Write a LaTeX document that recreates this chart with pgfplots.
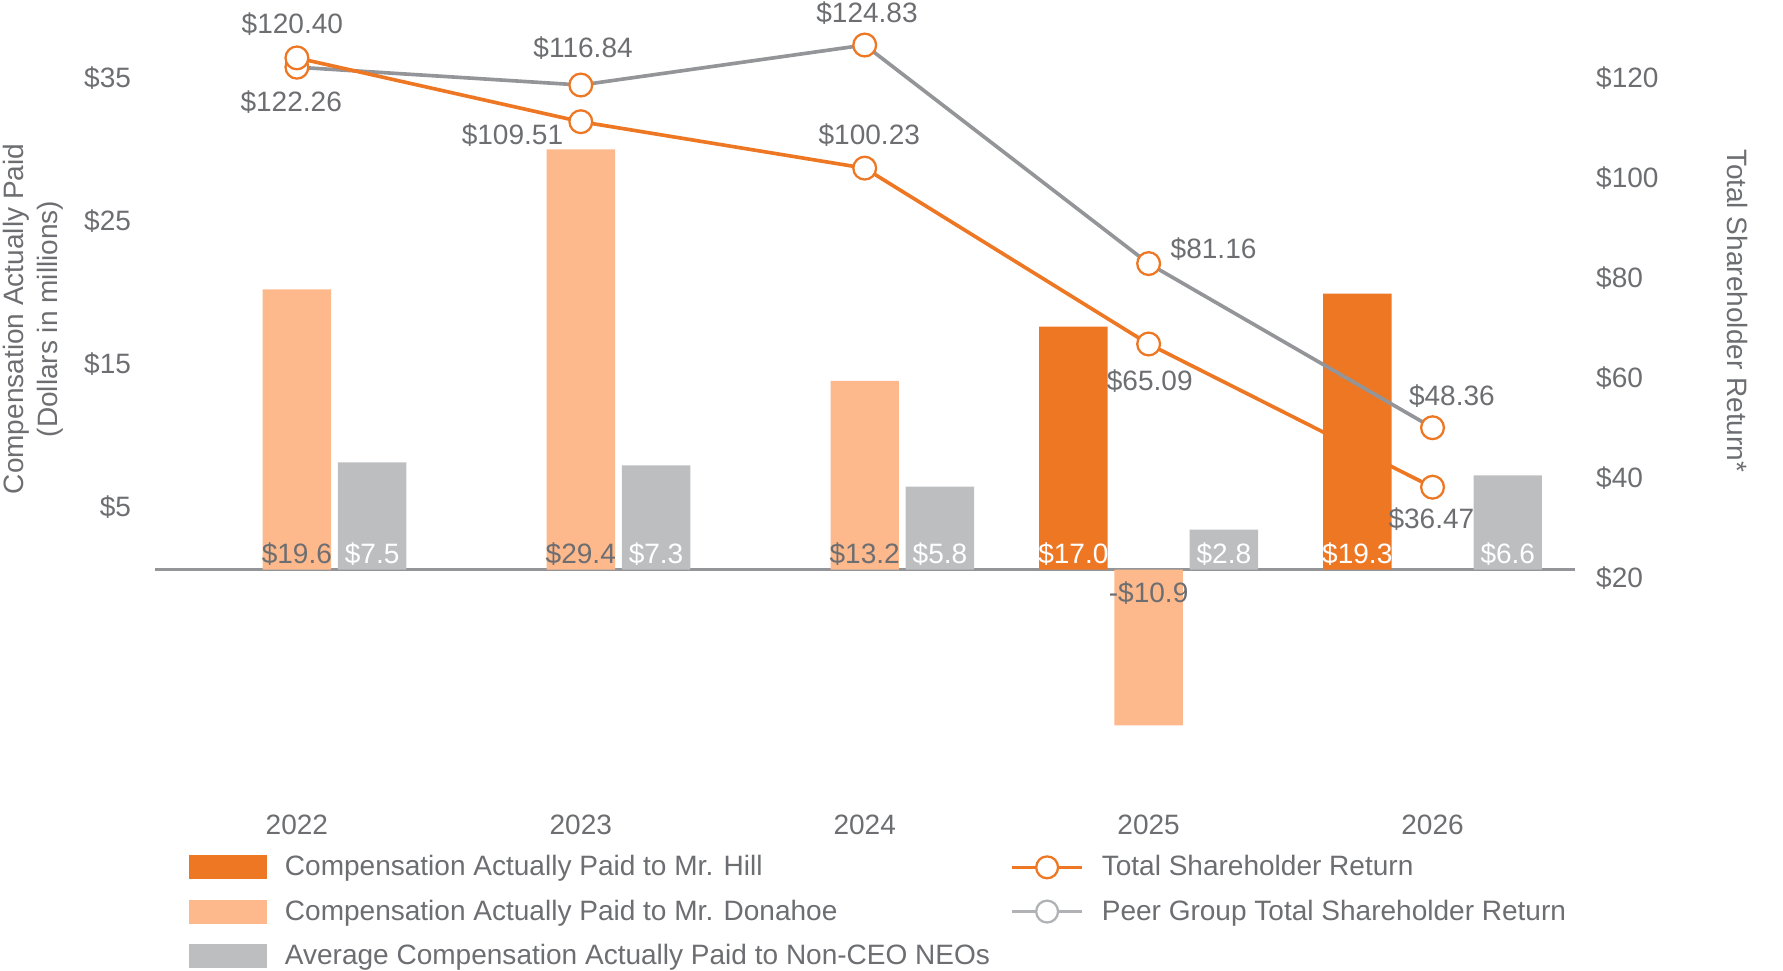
\documentclass[border=0pt]{standalone}
\usepackage{fontspec}
\setmainfont{Liberation Sans}
\usepackage{pgfplots}
\pgfplotsset{compat=1.18}
\definecolor{hill}{RGB}{238,119,35}
\definecolor{dona}{RGB}{253,185,140}
\definecolor{neo}{RGB}{188,190,192}
\definecolor{peer}{RGB}{147,149,152}
\definecolor{peerlite}{RGB}{176,178,181}
\definecolor{txt}{RGB}{109,110,113}

\pgfplotsset{
  base/.style={
    scale only axis, width=623pt, height=338.85pt,
    xmin=-0.5, xmax=4.5, clip=false,
    axis line style={draw=none}, tick style={draw=none}, major tick length=0pt,
    tick label style={text=txt, font=\fontsize{12.3}{14}\selectfont},
  },
  lbl/.style={draw=none, mark=none, forget plot, nodes near coords, point meta=explicit symbolic,
    nodes near coords style={font=\fontsize{12.3}{14}\selectfont, inner sep=0pt}},
}

\begin{document}
\begin{tikzpicture}[font=\fontsize{12.3}{14}\selectfont]
\useasboundingbox (-68pt,-75.35pt) rectangle (714.5pt,350.4pt);
% ---------------- left axis: compensation bars ----------------
\begin{axis}[base,
  axis x line*=bottom, axis y line*=left,
  ymin=-16, ymax=38,
  xtick={0,1,2,3,4}, xticklabels={2022,2023,2024,2025,2026},
  xticklabel style={anchor=base, yshift=-15.7pt},
  ytick={5,15,25,35}, yticklabels={\$5,\$15,\$25,\$35},
  yticklabel style={anchor=base east, xshift=-7pt, yshift=-8pt},
  extra y ticks={0}, extra y tick labels={},
  extra y tick style={grid=major, major grid style={draw=peer, line width=1.6pt}},
]
\addplot[ybar, bar width=0.241, bar shift=-0.265, fill=hill, draw=none, forget plot]
  coordinates {(3,17.0) (4,19.3)};
\addplot[ybar, bar width=0.241, bar shift=0, fill=dona, draw=none, forget plot]
  coordinates {(0,19.6) (1,29.4) (2,13.2) (3,-10.9)};
\addplot[ybar, bar width=0.241, bar shift=0.265, fill=neo, draw=none, forget plot]
  coordinates {(0,7.5) (1,7.3) (2,5.8) (3,2.8) (4,6.6)};
% bar value labels
\addplot[lbl, nodes near coords style={anchor=base, yshift=2.5pt, text=white}]
  coordinates {(2.735,0) [\$17.0] (3.735,0) [\$19.3]};
\addplot[lbl, nodes near coords style={anchor=base, yshift=2.5pt, text=txt}]
  coordinates {(0,0) [\$19.6] (1,0) [\$29.4] (2,0) [\$13.2]};
\addplot[lbl, nodes near coords style={anchor=base, yshift=-14.5pt, text=txt}]
  coordinates {(3,0) [-\$10.9]};
\addplot[lbl, nodes near coords style={anchor=base, yshift=2.5pt, text=white}]
  coordinates {(0.265,0) [\$7.5] (1.265,0) [\$7.3] (2.265,0) [\$5.8] (3.265,0) [\$2.8] (4.265,0) [\$6.6]};
\node[rotate=90, align=center, text=txt, font=\fontsize{12.3}{15}\selectfont]
  at (axis description cs:-0.086,0.621) {Compensation Actually Paid\\(Dollars in millions)};
\end{axis}
% ---------------- right axis: TSR lines ----------------
\begin{axis}[base,
  axis x line=none, axis y line*=right,
  ymin=-25.714, ymax=128.571,
  ytick={20,40,60,80,100,120}, yticklabels={\$20,\$40,\$60,\$80,\$100,\$120},
  yticklabel style={anchor=base west, xshift=6pt, yshift=-8pt},
  legend columns=2,
  legend style={at={(0.024,-0.0674)}, anchor=north west, draw=none, fill=none,
    font=\fontsize{12.3}{14}\selectfont, text=txt, row sep=5pt, inner sep=0pt,
    cells={anchor=west},
    /tikz/every odd column/.append style={column sep=6pt}},
]
\addplot[peer, line width=1.6pt, mark=*, mark size=5pt,
  mark options={draw=hill, fill=white, line width=1pt}, forget plot]
  coordinates {(0,120.40) (1,116.84) (2,124.83) (3,81.16) (4,48.36)};
\addplot[hill, line width=1.6pt, mark=*, mark size=5pt,
  mark options={draw=hill, fill=white, line width=1pt}, forget plot]
  coordinates {(0,122.26) (1,109.51) (2,100.23) (3,65.09) (4,36.47)};
% line value labels
\addplot[lbl, visualization depends on={\thisrow{dx}\as\dx},
  visualization depends on={\thisrow{dy}\as\dy},
  nodes near coords style={anchor=center, xshift=\dx pt, yshift=\dy pt, text=txt}]
  table[x=x, y=y, meta=lab] {
x y dx dy lab
0 122.26 -2.5 -19.5 \$122.26
1 109.51 -30 -6 \$109.51
2 100.23 2 14.5 \$100.23
3 65.09 0.5 -16.5 \$65.09
4 36.47 -0.5 -14 \$36.47
0 120.40 -2 19 \$120.40
1 116.84 1 16 \$116.84
2 124.83 1 14 \$124.83
3 81.16 28.5 6.5 \$81.16
4 48.36 8.5 14 \$48.36
};
\node[rotate=-90, text=txt] at (axis description cs:1.1148,0.631) {Total Shareholder Return*};
% legend
\addlegendimage{legend image code/.code={\fill[hill] (0pt,-5pt) rectangle (33.5pt,5pt);}}
\addlegendentry{\makebox[316.5pt][l]{Compensation Actually Paid to Mr. Hill}}
\addlegendimage{legend image code/.code={\draw[hill,line width=1.5pt] (0pt,0pt)--(30.5pt,0pt);
  \draw[hill,fill=white,line width=1pt] (15.25pt,0pt) circle (4.8pt);}}
\addlegendentry{Total Shareholder Return}
\addlegendimage{legend image code/.code={\fill[dona] (0pt,-5pt) rectangle (33.5pt,5pt);}}
\addlegendentry{\makebox[316.5pt][l]{Compensation Actually Paid to Mr. Donahoe}}
\addlegendimage{legend image code/.code={\draw[peerlite,line width=1.5pt] (0pt,0pt)--(30.5pt,0pt);
  \draw[peerlite,fill=white,line width=1pt] (15.25pt,0pt) circle (4.8pt);}}
\addlegendentry{Peer Group Total Shareholder Return}
\addlegendimage{legend image code/.code={\fill[neo] (0pt,-5pt) rectangle (33.5pt,5pt);}}
\addlegendentry{\makebox[316.5pt][l]{Average Compensation Actually Paid to Non-CEO NEOs}}
\end{axis}
\end{tikzpicture}
\end{document}
